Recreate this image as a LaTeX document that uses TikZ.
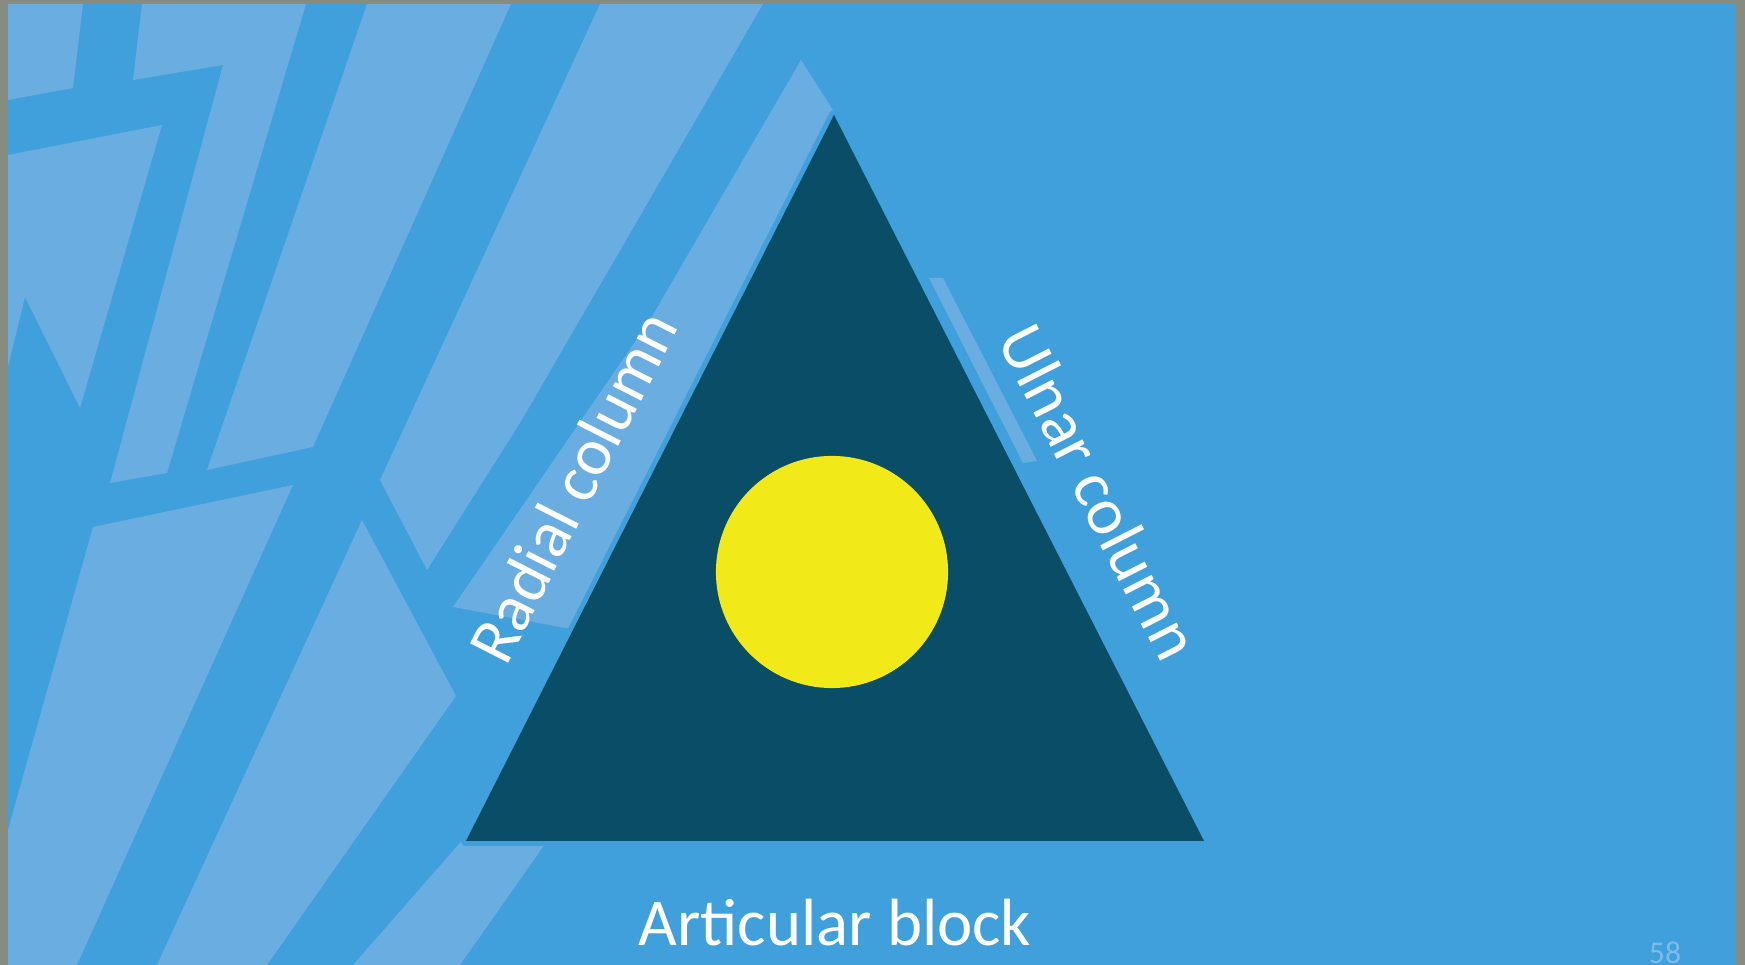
\documentclass[tikz,border=0pt]{standalone}
\usepackage{fontspec}
\setmainfont{Carlito}

\definecolor{frame}{HTML}{878C7E}
\definecolor{slideblue}{HTML}{3FA0DC}
\definecolor{shardblue}{HTML}{6AADE0}
\definecolor{blockteal}{HTML}{0A4D66}
\definecolor{nucleusyellow}{HTML}{F2EA18}
\definecolor{pagegrey}{HTML}{7CBCE8}

\tikzset{
  shard/.style={fill=shardblue},
  colname/.style={text=white, inner sep=0pt, font=\fontsize{19pt}{23pt}\selectfont},
  pagenum/.style={text=pagegrey, inner sep=0pt, font=\fontsize{9pt}{11pt}\selectfont}
}

\begin{document}
\begin{tikzpicture}[x=0.01cm, y=0.01cm]
\useasboundingbox (0,-965) rectangle (1745,0);

% Slide frame
\fill[frame] (0,-965) rectangle (1745,0);
\fill[slideblue] (8,-965) rectangle (1736,-4);

% Background shards
\begin{scope}
\clip (8,-965) rectangle (1736,-4);
\fill[shard] (8,-4) -- (83,-4) -- (73,-88) -- (8,-100) -- cycle;
\fill[shard] (142,-4) -- (306,-4) -- (167,-473) -- (110,-483) -- (223,-65) -- (133,-80) -- cycle;
\fill[shard] (8,-155) -- (162,-125) -- (80,-408) -- (25,-297) -- (8,-367) -- cycle;
\fill[shard] (367,-4) -- (511,-4) -- (313,-447) -- (207,-470) -- cycle;
\fill[shard] (600,-4) -- (763,-4) -- (520,-423) -- (427,-570) -- (380,-480) -- cycle;
\fill[shard] (801,-60) -- (838,-118) -- (585,-632) -- (560,-627) -- (453,-607) -- (650,-320) -- cycle;
\fill[shard] (93,-527) -- (293,-485) -- (77,-965) -- (8,-965) -- (8,-830) -- cycle;
\fill[shard] (362,-520) -- (456,-696) -- (267,-965) -- (157,-965) -- cycle;
\fill[shard] (353,-965) -- (460,-965) -- (590,-780) -- (515,-780) -- cycle;
\fill[shard] (929,-278) -- (943,-278) -- (1037,-461) -- (1023,-463) -- cycle;
\end{scope}

% Three-column triangle
\coordinate (apex) at (834,-115);
\coordinate (radialfoot) at (466,-841);
\coordinate (ulnarfoot) at (1204,-841);
\draw[slideblue, line width=0.1cm, line join=round] (apex) -- (radialfoot) -- (ulnarfoot) -- cycle;
\fill[blockteal] (apex) -- (radialfoot) -- (ulnarfoot) -- cycle;

% Centre disc
\node[circle, fill=nucleusyellow, minimum size=2.32cm, inner sep=0pt] (nucleus) at (832,-572) {};

% Column names
\node[colname, rotate=63, anchor=base] (radial) at (593,-497) {Radial column};
\node[colname, rotate=-63, anchor=base] (ulnar) at (1079,-502) {Ulnar column};
\node[colname, anchor=base] (articular) at (835,-946) {Articular block};

% Slide number
\node[pagenum, anchor=base] (page) at (1665,-964) {58};

\end{tikzpicture}
\end{document}
